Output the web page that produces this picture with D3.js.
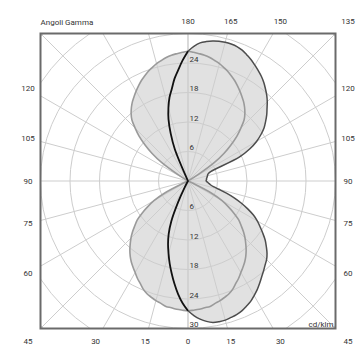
<!DOCTYPE html>
<html><head><meta charset="utf-8">
<script src="https://cdn.jsdelivr.net/npm/d3@7"></script>
<style>body{margin:0;background:#fff}svg{display:block}text{font-family:Roboto,"DejaVu Sans",sans-serif}</style>
</head><body><svg id="chart" width="357" height="345"></svg>
<script>
// gamma angles (degrees, 0 = down, 180 = up)
const gammaAngles = [0,2.5,5,7.5,10,12.5,15,17.5,20,22.5,25,27.5,30,32.5,35,37.5,40,42.5,45,47.5,50,52.5,55,57.5,60,62.5,65,67.5,70,72.5,75,77.5,80,82.5,85,87.5,90,92.5,95,97.5,100,102.5,105,107.5,110,112.5,115,117.5,120,122.5,125,127.5,130,132.5,135,137.5,140,142.5,145,147.5,150,152.5,155,157.5,160,162.5,165,167.5,170,172.5,175,177.5,180];
// C0 half-plane (right side), cd/klm
const c0Values = [26.4,27.4,28.2,28.8,29.2,29.3,29.3,29.1,28.9,28.6,28.1,27.6,26.9,26.2,25.4,24.6,23.9,23.2,22.6,21.8,20.8,19.8,18.6,17.4,16.3,15.0,13.4,11.7,10.0,8.2,6.5,5.3,4.7,4.4,4.1,3.9,3.7,3.7,3.8,3.8,3.9,4.0,4.1,4.2,4.4,5.0,11.5,14.2,16.1,17.6,18.9,19.9,20.9,21.8,22.8,23.7,24.5,25.3,26.0,26.6,27.2,27.8,28.3,28.8,29.1,29.2,29.2,29.1,28.9,28.6,28.2,27.4,26.4];
// C180 half-plane (left side)
const c180Values = [26.4,24.9,23.1,21.1,19.1,17.2,15.3,13.5,11.5,8.9,4.8,1.5,0,0,0,0,0,0,0,0,0,0,0,0,0,0,0,0,0,0,0,0,0,0,0,0,0,0,0,0,0,0,0,0,0,0,0,0,0,0,0,0,0,0,0,0,0,0,0,0,0,0,0,7.0,10.3,13.2,15.4,17.4,19.0,21.0,22.7,24.6,26.4];
// C90 / C270 plane (both sides)
const c90Values = [26.4,26.3,26.2,26.0,25.9,25.5,25.2,24.8,24.4,23.8,23.0,22.3,21.5,20.8,20.1,19.3,18.4,17.4,16.4,15.3,14.1,13.0,11.4,9.7,8.0,5.5,1.0,0,0,0,0,0,0,0,0,0,0,0,0,0,0,0,0,0,0,0,0,0,0,2.5,6.5,9.2,11.4,13.5,15.2,16.9,18.0,18.9,19.7,20.4,21.1,21.8,22.5,23.1,23.7,24.2,24.7,25.1,25.5,25.8,26.0,26.2,26.4];

const ringValues = [6,12,18,24,30,36,42];
const ringLabelsTop = [6,12,18,24];
const ringLabelsBottom = [6,12,18,24,30];
const spokeAngles = [0,15,30,45,60,75,90,105,120,135,150,165,180];
const rightAngleLabels = [180,165,150,135,120,105,90,75,60,45,30,15,0];
const leftAngleLabels = [120,105,90,75,60,45,30,15];

const cx = 188, cy = 181, R = 147.5, L = 160;
const r = d3.scaleLinear().domain([0,30]).range([0,R]);
const rad = d => d*Math.PI/180;
const svg = d3.select('#chart');
svg.append('defs').append('clipPath').attr('id','box')
  .append('rect').attr('x',-R).attr('y',-R).attr('width',2*R).attr('height',2*R);
const g = svg.append('g').attr('transform',`translate(${cx},${cy})`);

const radial = d3.lineRadial().angle(d=>d[0]).radius(d=>d[1]);
function half(vals, side){ // side 1 right, -1 left
  return gammaAngles.map((a,i)=>[side>0 ? Math.PI-rad(a) : Math.PI+rad(a), r(vals[i])]);
}
function closed(rightVals, leftVals){
  const pts = half(rightVals,1);
  const lp = half(leftVals,-1);
  for(let i=lp.length-2;i>=1;i--) pts.push(lp[i]);
  return pts;
}
const closedLine = d3.lineRadial().angle(d=>d[0]).radius(d=>d[1]).curve(d3.curveCatmullRomClosed.alpha(0.5));
const openLine = d3.lineRadial().angle(d=>d[0]).radius(d=>d[1]).curve(d3.curveCatmullRom.alpha(0.5));

// fills
g.append('path').attr('d',closedLine(closed(c90Values,c90Values))).attr('fill','#e1e1e1');
g.append('path').attr('d',closedLine(closed(c0Values,c180Values))).attr('fill','#e1e1e1');

// grid
const grid = g.append('g').attr('clip-path','url(#box)');
grid.selectAll('circle').data(ringValues).join('circle')
  .attr('r',d=>r(d)).attr('fill','none').attr('stroke','#cdcdcd').attr('stroke-width',1);
[1,-1].forEach(s=>{
  grid.selectAll(null).data(spokeAngles).join('line')
    .attr('x1',0).attr('y1',0)
    .attr('x2',d=>s*300*Math.sin(rad(d))).attr('y2',d=>300*Math.cos(rad(d)))
    .attr('stroke','#cdcdcd').attr('stroke-width',1);
});

// box
g.append('rect').attr('x',-R).attr('y',-R).attr('width',2*R).attr('height',2*R)
  .attr('fill','none').attr('stroke','#6a6a6a').attr('stroke-width',2);

// curves
g.append('path').attr('d',closedLine(closed(c90Values,c90Values))).attr('fill','none')
  .attr('stroke','#9a9a9a').attr('stroke-width',1.6);
g.append('path').attr('d',openLine(half(c0Values,1))).attr('fill','none')
  .attr('stroke','#4d4d4d').attr('stroke-width',1.5);
g.append('path').attr('d',openLine(half(c180Values,-1))).attr('fill','none')
  .attr('stroke','#111').attr('stroke-width',1.8);

// ring labels
g.selectAll(null).data(ringLabelsTop).join('text')
  .attr('x',1.5).attr('y',d=>-r(d)-1.2).text(d=>d)
  .attr('font-size',8).attr('fill','#333');
g.selectAll(null).data(ringLabelsBottom).join('text')
  .attr('x',1.5).attr('y',d=>r(d)-1.2).text(d=>d)
  .attr('font-size',8).attr('fill','#333');

// angle labels
function labelPos(a, s){
  const dx = s*Math.sin(rad(a)), dy = Math.cos(rad(a));
  const t = L/Math.max(Math.abs(dx),Math.abs(dy));
  return [dx*t, dy*t];
}
[[rightAngleLabels,1],[leftAngleLabels,-1]].forEach(([arr,s])=>{
  g.selectAll(null).data(arr).join('text')
    .attr('x',d=>labelPos(d,s)[0]).attr('y',d=>labelPos(d,s)[1])
    .attr('text-anchor','middle').attr('dominant-baseline','central')
    .attr('font-size',8).attr('fill','#333').text(d=>d);
});

svg.append('text').attr('x',cx-R).attr('y',22).attr('dominant-baseline','central')
  .attr('font-size',8).attr('fill','#333').text('Angoli Gamma');
svg.append('text').attr('x',cx+R-2).attr('y',324).attr('dominant-baseline','central')
  .attr('text-anchor','end').attr('font-size',8).attr('fill','#333').text('cd/klm');
</script></body></html>
